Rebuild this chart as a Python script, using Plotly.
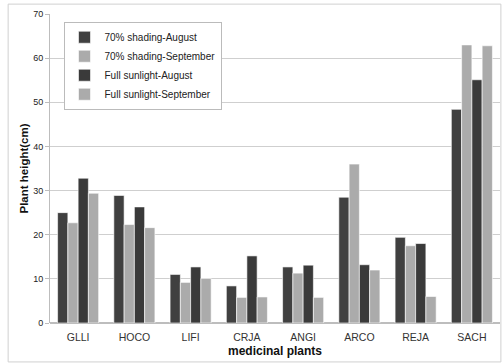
import plotly.graph_objects as go

categories = ["GLLI", "HOCO", "LIFI", "CRJA", "ANGI", "ARCO", "REJA", "SACH"]
shade_aug = [25.0, 28.9, 11.0, 8.4, 12.7, 28.5, 19.4, 48.4]
shade_sep = [22.7, 22.3, 9.2, 5.8, 11.3, 36.0, 17.5, 63.0]
sun_aug = [32.8, 26.3, 12.7, 15.2, 13.1, 13.2, 18.0, 55.1]
sun_sep = [29.4, 21.6, 10.1, 5.9, 5.8, 12.0, 6.0, 62.8]
series_names = ["70% shading-August", "70% shading-September",
                "Full sunlight-August", "Full sunlight-September"]
colors = ["#404040", "#ababab", "#3a3a3a", "#ababab"]
y_ticks = [0, 10, 20, 30, 40, 50, 60, 70]

fig = go.Figure()
for name, vals, c in zip(series_names, [shade_aug, shade_sep, sun_aug, sun_sep], colors):
    fig.add_trace(go.Bar(x=categories, y=vals, name=name,
                         marker=dict(color=c, line=dict(color="#ffffff", width=0.6))))

fig.update_layout(
    width=502, height=363,
    margin=dict(l=50, r=2, t=14, b=40),
    paper_bgcolor="white", plot_bgcolor="white",
    barmode="group", bargap=0.27, bargroupgap=0.0,
    font=dict(family="Liberation Sans, Arial, sans-serif", color="#222222"),
    showlegend=True,
    legend=dict(x=0.03, y=0.975, xanchor="left", yanchor="top",
                bordercolor="#bbbbbb", borderwidth=1, bgcolor="white",
                font=dict(size=10, color="#222222"),
                tracegroupgap=0, itemwidth=30, traceorder="normal"),
    xaxis=dict(showgrid=False, showline=False, ticks="", ticklabelstandoff=6,
               tickfont=dict(size=10.5, color="#333333"),
               title=dict(text="<b>medicinal plants</b>", font=dict(size=12, color="#111111"), standoff=5)),
    yaxis=dict(range=[0, 70], tickvals=y_ticks, showgrid=True, gridcolor="#cfcfcf", gridwidth=1,
               showline=True, linecolor="#bdbdbd", ticks="outside", ticklen=4, tickcolor="#bdbdbd",
               tickfont=dict(size=9, color="#222222"),
               tickprefix="<b>", ticksuffix="</b>", zeroline=True, zerolinecolor="#bdbdbd",
               title=dict(text="<b>Plant height(cm)</b>", font=dict(size=11.5, color="#111111"), standoff=2)),
)
fig.add_shape(type="rect", xref="paper", yref="paper",
              x0=-0.093, x1=1.002, y0=-0.126, y1=1.032,
              line=dict(color="#d0d0d0", width=1), layer="below")

fig.write_html("out.html", config={"displayModeBar": False},
               post_script="document.body.style.margin='0';document.body.style.overflow='hidden';")
